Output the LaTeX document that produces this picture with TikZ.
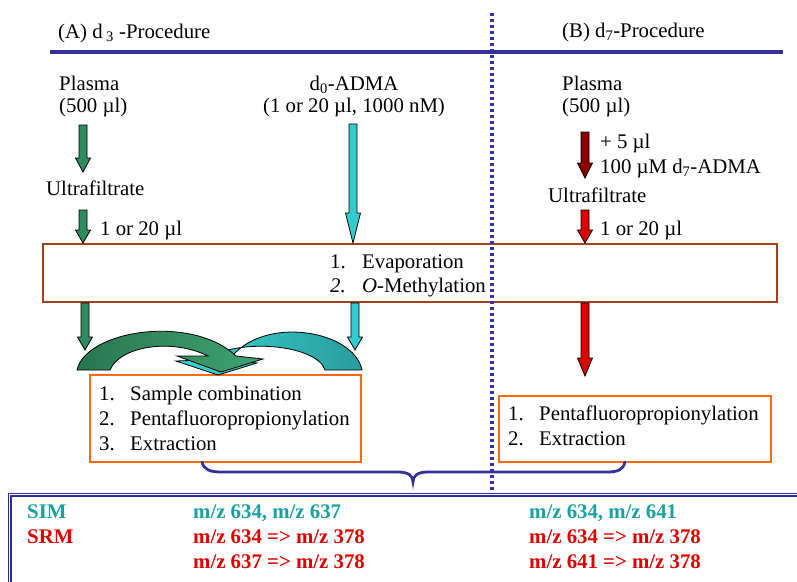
\documentclass[tikz,border=0pt]{standalone}
\usepackage{fontspec}
\setmainfont{Liberation Serif}
\definecolor{hdrblue}{HTML}{33339A}
\definecolor{dotblue}{HTML}{3333B0}
\definecolor{boxblue}{HTML}{2A2AA0}
\definecolor{brownb}{HTML}{A0421E}
\definecolor{orangeb}{HTML}{FF6A10}
\definecolor{agreen}{HTML}{2E8B5E}
\definecolor{acyan}{HTML}{33CCCC}
\definecolor{adred}{HTML}{8B0000}
\definecolor{ared}{HTML}{DD0000}
\definecolor{gdark}{HTML}{2A7650}
\definecolor{glight}{HTML}{3DA471}
\definecolor{clight}{HTML}{36D4D4}
\definecolor{cdark}{HTML}{2A9C9C}
\definecolor{simteal}{HTML}{1AA0A0}
\definecolor{srmred}{HTML}{E00000}
\newcommand\blockarr[5]{%
  \filldraw[fill=#1, draw=black, line width=0.8pt, line join=miter]
    (#2-4,#3) -- (#2+4,#3) -- (#2+4,#4) -- (#2+7.5,#4) -- (#2,#5)
    -- (#2-7.5,#4) -- (#2-4,#4) -- cycle;}
\begin{document}
\begin{tikzpicture}[x=1pt,y=-1pt,
  txt/.style={anchor=base west, inner sep=0pt, font=\fontsize{20.8}{24}\selectfont},
  ctxt/.style={txt, anchor=base},
  btxt/.style={txt, font=\fontsize{20.8}{24}\selectfont\bfseries},
  brownbox/.style={draw=brownb, line width=2.5pt, fill=white, inner sep=0pt},
  orangebox/.style={draw=orangeb, line width=2.5pt, fill=white, inner sep=0pt}]
\useasboundingbox (0,0) rectangle (797,581);

% header
\node[txt] (hA) at (58,38) {(A) d\,\textsubscript{3} -Procedure};
\node[txt] (hB) at (562,37) {(B) d\textsubscript{7}-Procedure};
\coordinate (hl) at (50,52);
\coordinate (hr) at (783,52);
\draw[hdrblue, line width=4pt] (hl) -- (hr);

% boxes
\node[brownbox, minimum width=734pt, minimum height=58pt] (evap) at (410,273) {};
\node[orangebox, minimum width=271pt, minimum height=87pt] (boxL) at (225.5,418.5) {};
\node[orangebox, minimum width=272pt, minimum height=66pt] (boxR) at (635,429) {};

% divider
\coordinate (dtop) at (492,13);
\coordinate (dbot) at (492,492);
\draw[dotblue, line width=3.5pt, dash pattern=on 3pt off 3pt] (dtop) -- (dbot);

% left column
\node[txt] (plA) at (59,90) {Plasma};
\node[txt] (plAv) at (59,112) {(500 µl)};
\node[txt] (ufA) at (46,195) {Ultrafiltrate};
\node[txt] (vA) at (100,235) {1 or 20 µl};
\blockarr{agreen}{83}{125}{158}{172}
\blockarr{agreen}{83}{210}{230}{243}

% d0-ADMA
\node[ctxt] (d0) at (354,90) {d\textsubscript{0}-ADMA};
\node[ctxt] (d0v) at (354,112) {(1 or 20 µl, 1000 nM)};
\blockarr{acyan}{353}{124}{213}{243}

% right column
\node[txt] (plB) at (562,90) {Plasma};
\node[txt] (plBv) at (562,112) {(500 µl)};
\node[txt] (addB) at (600,148) {+ 5 µl};
\node[txt] (addB2) at (600,173) {100 µM d\textsubscript{7}-ADMA};
\node[txt] (ufB) at (548,202) {Ultrafiltrate};
\node[txt] (vB) at (600,235) {1 or 20 µl};
\blockarr{adred}{585}{132}{163}{178}
\blockarr{ared}{585}{210}{230}{243}

% evaporation text
\node[txt] (e1n) at (330,268) {1.};
\node[txt] (e1) at (362,268) {Evaporation};
\node[txt] (e2n) at (330,292) {\textit{2.}};
\node[txt] (e2) at (362,292) {\textit{O}-Methylation};

% arrows below evaporation box
\blockarr{agreen}{85}{303}{337}{350}
\blockarr{acyan}{355}{303}{337}{350}
\blockarr{ared}{585}{303}{358}{376}

% curved arrows
\shadedraw[left color=clight, right color=cdark, draw=black, line width=0.8pt]
  (362,370) .. controls (354,330) and (262,314) .. (229,360)
  -- (257,363) -- (218,375) -- (176,361) -- (203,360)
  .. controls (242,336) and (318,346) .. (325,370) -- cycle;
\shadedraw[left color=gdark, right color=glight, draw=black, line width=0.8pt]
  (77,370) .. controls (86,330) and (192,314) .. (236,356)
  -- (263,359) -- (221,372) -- (177,356) -- (208,356)
  .. controls (172,338) and (120,346) .. (110,370) -- cycle;

% left box text
\node[txt] (l1n) at (99,400) {1.};
\node[txt] (l1) at (130,400) {Sample combination};
\node[txt] (l2n) at (99,425) {2.};
\node[txt] (l2) at (130,425) {Pentafluoropropionylation};
\node[txt] (l3n) at (99,450) {3.};
\node[txt] (l3) at (130,450) {Extraction};

% right box text
\node[txt] (r1n) at (508,420) {1.};
\node[txt] (r1) at (539,420) {Pentafluoropropionylation};
\node[txt] (r2n) at (508,445) {2.};
\node[txt] (r2) at (539,445) {Extraction};

% brace
\draw[hdrblue, line width=2.8pt, line cap=round]
  (202,462) .. controls (204,470) and (210,472) .. (222,472) -- (398,472)
  .. controls (409,472) and (413,476) .. (413,482)
  .. controls (413,476) and (417,472) .. (428,472) -- (606,472)
  .. controls (618,472) and (623,470) .. (625,462);

% bottom box
\coordinate (bb1) at (9.5,600);
\coordinate (bb2) at (9.5,494.5);
\coordinate (bb3) at (810,494.5);
\draw[boxblue, double=white, double distance=1.4pt, line width=1.3pt] (bb1) -- (bb2) -- (bb3);

\node[btxt, text=simteal] (sim) at (27,518) {SIM};
\node[btxt, text=srmred] (srm) at (27,543) {SRM};
\node[btxt, text=simteal] (simA) at (193,518) {m/z 634, m/z 637};
\node[btxt, text=srmred] (srmA1) at (193,543) {m/z 634 => m/z 378};
\node[btxt, text=srmred] (srmA2) at (193,568) {m/z 637 => m/z 378};
\node[btxt, text=simteal] (simB) at (529,518) {m/z 634, m/z 641};
\node[btxt, text=srmred] (srmB1) at (529,543) {m/z 634 => m/z 378};
\node[btxt, text=srmred] (srmB2) at (529,568) {m/z 641 => m/z 378};
\end{tikzpicture}
\end{document}
